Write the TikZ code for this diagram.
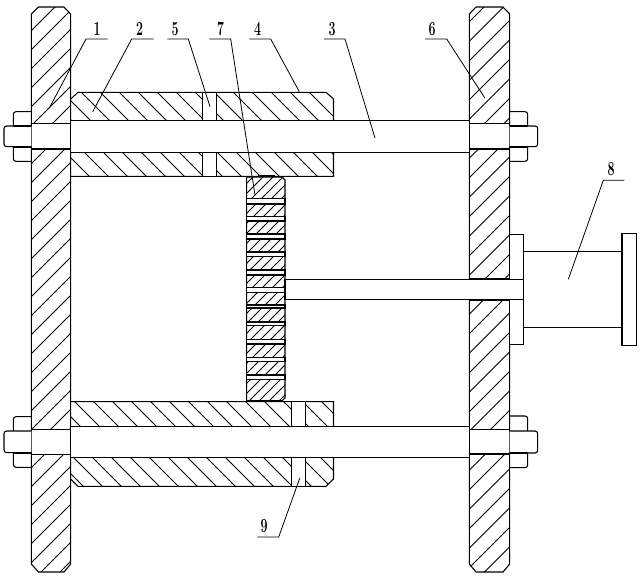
\documentclass[tikz,border=0pt]{standalone}
\usepackage{amsmath}

%% 剖面线: #1 轮廓, #2 起点, #3 间距, #4 方向(-1 为 /, 1 为 \)
\newcommand{\hatcharea}[4]{
  \begin{scope}
    \clip #1;
    \foreach \k in {0,...,70}
      \draw[hatchline] ({#2+\k*#3}, 0) --+ ({#4*600}, 600);
  \end{scope}
}

\tikzset{
  partline/.style={line width=0.8pt},
  hatchline/.style={line width=0.6pt},
  leader/.style={line width=0.6pt},
  openpart/.style={partline, fill=white},
  numlabel/.style={font=\fontsize{15}{15}\selectfont\bfseries, xscale=0.62, inner sep=0pt}
}

\begin{document}
\begin{tikzpicture}[x=0.75pt, y=-0.75pt]
\useasboundingbox (0, 0) rectangle (641, 576);

%% 左右两块立板
\hatcharea{(38.5, 7) -- (64, 7) -- (70.7, 14) -- (70.7, 564) -- (64, 572) -- (38.5, 572) -- (31.3, 564) -- (31.3, 14) -- cycle}{62}{19}{-1}
\hatcharea{(476, 7) -- (503, 7) -- (509.7, 14) -- (509.7, 564) -- (503, 572) -- (476, 572) -- (469.3, 564) -- (469.3, 14) -- cycle}{491}{19.5}{-1}
\draw[partline] (38.5, 7) -- (64, 7) -- (70.7, 14) -- (70.7, 564) -- (64, 572) -- (38.5, 572) -- (31.3, 564) -- (31.3, 14) -- cycle;
\draw[partline] (476, 7) -- (503, 7) -- (509.7, 14) -- (509.7, 564) -- (503, 572) -- (476, 572) -- (469.3, 564) -- (469.3, 14) -- cycle;

%% 上下两个夹块
\hatcharea{(70.7, 99) -- (78, 92.3) -- (326, 92.3) -- (333.5, 99) -- (333.5, 176.3) -- (70.7, 176.3) -- cycle}{-125}{19}{1}
\hatcharea{(70.7, 401.7) -- (333.5, 401.7) -- (333.5, 479) -- (326, 486.3) -- (78, 486.3) -- (70.7, 479) -- cycle}{-441}{19}{1}
\draw[partline] (70.7, 99) -- (78, 92.3) -- (326, 92.3) -- (333.5, 99) -- (333.5, 176.3) -- (70.7, 176.3);
\draw[partline] (70.7, 401.7) -- (333.5, 401.7) -- (333.5, 479) -- (326, 486.3) -- (78, 486.3) -- (70.7, 479);

%% 夹块上的油孔
\draw[openpart] (202.7, 92.3) rectangle (216.3, 176.3);
\draw[openpart] (291.7, 401.7) rectangle (305.3, 486.3);

%% 导杆及其在立板中的孔
\draw[openpart] (70.7, 120.3) rectangle (469.3, 152.3);
\draw[openpart] (70.7, 426.3) rectangle (469.3, 457.3);
\draw[openpart] (31.3, 123.7) rectangle (70.7, 149);
\draw[openpart] (31.3, 429.3) rectangle (70.7, 454.3);
\draw[openpart] (469.3, 123.5) rectangle (509.7, 149);
\draw[openpart] (469.3, 429.3) rectangle (509.7, 454);

%% 左侧螺母
\draw[partline, rounded corners=2pt] (31.3, 111.7) -- (13.3, 111.7) -- (13.3, 161.3) -- (31.3, 161.3);
\draw[partline, rounded corners=2pt] (31.3, 416.7) -- (13.3, 416.7) -- (13.3, 467.3) -- (31.3, 467.3);
\draw[openpart, rounded corners=2pt] (31.3, 126) -- (4, 126) -- (4, 146.7) -- (31.3, 146.7);
\draw[openpart, rounded corners=2pt] (31.3, 431) -- (4, 431) -- (4, 452.7) -- (31.3, 452.7);
\draw[line width=1.5pt] (13.3, 126) -- (31.3, 126) (13.3, 146.7) -- (31.3, 146.7);
\draw[line width=1.5pt] (13.3, 452.7) -- (31.3, 452.7);

%% 右侧螺母
\draw[partline, rounded corners=2pt] (509.7, 111.7) -- (527.7, 111.7) -- (527.7, 161.3) -- (509.7, 161.3);
\draw[partline, rounded corners=2pt] (509.7, 416) -- (527.7, 416) -- (527.7, 467.7) -- (509.7, 467.7);
\draw[openpart, rounded corners=2pt] (509.7, 126) -- (537.7, 126) -- (537.7, 146.7) -- (509.7, 146.7);
\draw[openpart, rounded corners=2pt] (509.7, 431) -- (537.7, 431) -- (537.7, 453) -- (509.7, 453);
\draw[line width=1.5pt] (509.7, 126) -- (527.7, 126) (509.7, 146.7) -- (527.7, 146.7);
\draw[line width=1.5pt] (509.7, 453) -- (527.7, 453);

%% 中间的齿条
\hatcharea{(246.7, 177) -- (282, 177) -- (285, 180) -- (285, 398) -- (282, 400.7) -- (246.7, 400.7) -- cycle}{250}{10}{-1}
\draw[partline] (246.7, 177) -- (282, 177) -- (285, 180) -- (285, 398) -- (282, 400.7) -- (246.7, 400.7) -- cycle;
\foreach \ya/\yb in {198.3/204, 216.3/221, 234/239, 252/256.7, 270/275, 287.3/292.3, 305/308, 322/325.7, 339.7/344, 357.7/361.7, 375/379.3}
  \draw[openpart] (250, \ya) -- (285, \ya) -- (285, \yb) -- (246.7, \yb) -- (246.7, \ya) -- cycle;
\draw[line width=1.5pt] (258, 176.3) -- (275, 176.3);

%% 油缸及活塞杆
\draw[openpart] (509.7, 234.3) rectangle (523.7, 344.3);
\draw[openpart] (523.7, 251.3) rectangle (622, 327.3);
\draw[openpart] (622, 233.3) rectangle (636.7, 345.3);
\draw[openpart] (469.3, 278.5) rectangle (509.7, 300);
\draw[openpart] (285, 279.3) rectangle (523.7, 299.3);

%% 序号及引线
\node[numlabel] (n1) at (97, 29) {1};
\node[numlabel] (n2) at (139.5, 29) {2};
\node[numlabel] (n5) at (175, 29) {5};
\node[numlabel] (n7) at (220.5, 29) {7};
\node[numlabel] (n4) at (257.5, 29) {4};
\node[numlabel] (n3) at (332, 29) {3};
\node[numlabel] (n6) at (432, 29) {6};
\node[numlabel] (n8) at (611, 169) {8};
\node[numlabel] (n9) at (264, 526) {9};

\coordinate (t1) at (49.3, 108);
\coordinate (t2) at (92.7, 111.7);
\coordinate (t5) at (210, 106.7);
\coordinate (t7) at (255, 195);
\coordinate (t4) at (299.3, 91.7);
\coordinate (t3) at (375, 138);
\coordinate (t6) at (485, 98.3);
\coordinate (t8) at (568.3, 279.3);
\coordinate (t9) at (299.7, 478.3);

\draw[leader] (t1) -- (86, 39) -- (107.7, 39);
\draw[leader] (t2) -- (131.7, 39) -- (153.7, 39);
\draw[leader] (t5) -- (188.3, 39) -- (167.3, 39);
\draw[leader] (t7) -- (230.7, 39) -- (209.3, 39);
\draw[leader] (t4) -- (270.7, 39) -- (249.3, 39);
\draw[leader] (t3) -- (345, 39) -- (324, 39);
\draw[leader] (t6) -- (446.7, 39) -- (425, 39);
\draw[leader] (t8) -- (603.3, 180.3) -- (624.3, 180.3);
\draw[leader] (t9) -- (278.7, 537) -- (257.3, 537);
\end{tikzpicture}
\end{document}
